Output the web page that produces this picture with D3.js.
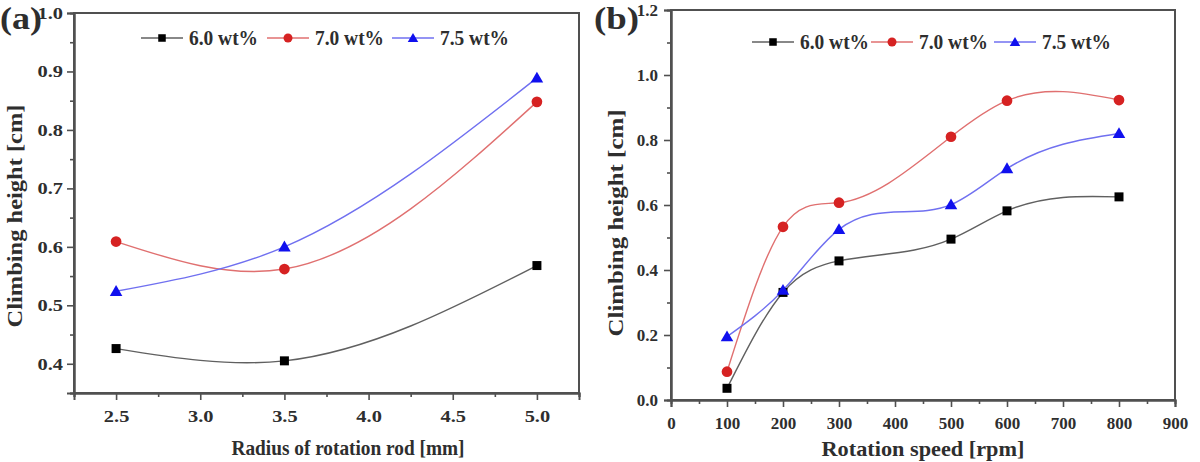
<!DOCTYPE html>
<html><head><meta charset="utf-8">
<script src="https://cdn.jsdelivr.net/npm/d3@7"></script>
<style>
html,body{margin:0;padding:0;background:#fff;}
svg{display:block;}
text{font-family:"Liberation Serif","Times New Roman",serif;font-weight:bold;fill:#2e2e2e;}
</style></head>
<body>
<svg id="chart" width="1200" height="462"></svg>
<script>
// ---- Data ----
const seriesNames = ["6.0 wt%", "7.0 wt%", "7.5 wt%"];
const radiusX = [2.5, 3.5, 5.0];
const radius60 = [0.426, 0.405, 0.568];
const radius70 = [0.609, 0.562, 0.848];
const radius75 = [0.524, 0.600, 0.889];
const speedX = [100, 200, 300, 500, 600, 800];
const speed60 = [0.036, 0.331, 0.428, 0.495, 0.582, 0.625];
const speed70 = [0.087, 0.533, 0.607, 0.810, 0.921, 0.923];
const speed75 = [0.195, 0.338, 0.525, 0.601, 0.712, 0.820];
const radiusTicks = [2.5, 3.0, 3.5, 4.0, 4.5, 5.0];
const radiusYTicks = [0.4, 0.5, 0.6, 0.7, 0.8, 0.9, 1.0];
const speedTicks = [0, 100, 200, 300, 400, 500, 600, 700, 800, 900];
const speedYTicks = [0.0, 0.2, 0.4, 0.6, 0.8, 1.0, 1.2];

const markerColors = ["#000000", "#d62222", "#1010ee"];
const lineColors = ["#606060", "#e07070", "#7070f0"];
const shapes = [d3.symbolSquare, d3.symbolCircle, d3.symbolTriangle];
const shapeSizes = [81, 90, 68];

const svg = d3.select("#chart");

// natural cubic spline y(x) drawn as exact cubic Bezier segments (pixel space, linear scales)
function splinePath(pts) {
  const n = pts.length;
  const p = d3.path();
  if (n < 2) return "";
  const h = [], M = new Array(n).fill(0);
  for (let i = 0; i < n - 1; i++) h.push(pts[i + 1][0] - pts[i][0]);
  if (n > 2) {
    const a = [], b = [], c = [], r = [];
    for (let i = 1; i < n - 1; i++) {
      a.push(h[i - 1]); b.push(2 * (h[i - 1] + h[i])); c.push(h[i]);
      r.push(6 * ((pts[i + 1][1] - pts[i][1]) / h[i] - (pts[i][1] - pts[i - 1][1]) / h[i - 1]));
    }
    const m = b.length;
    for (let i = 1; i < m; i++) {
      const w = a[i] / b[i - 1];
      b[i] -= w * c[i - 1]; r[i] -= w * r[i - 1];
    }
    const sol = new Array(m);
    sol[m - 1] = r[m - 1] / b[m - 1];
    for (let i = m - 2; i >= 0; i--) sol[i] = (r[i] - c[i] * sol[i + 1]) / b[i];
    for (let i = 0; i < m; i++) M[i + 1] = sol[i];
  }
  p.moveTo(pts[0][0], pts[0][1]);
  for (let i = 0; i < n - 1; i++) {
    const s = (pts[i + 1][1] - pts[i][1]) / h[i];
    const d0 = s - h[i] * (2 * M[i] + M[i + 1]) / 6;
    const d1 = s + h[i] * (M[i] + 2 * M[i + 1]) / 6;
    p.bezierCurveTo(pts[i][0] + h[i] / 3, pts[i][1] + d0 * h[i] / 3,
                    pts[i + 1][0] - h[i] / 3, pts[i + 1][1] - d1 * h[i] / 3,
                    pts[i + 1][0], pts[i + 1][1]);
  }
  return p.toString();
}

function fitText(sel, len) {
  sel.attr("textLength", len).attr("lengthAdjust", "spacingAndGlyphs");
}

function panel(cfg) {
  const g = svg.append("g");
  const x = d3.scaleLinear().domain(cfg.xDomain).range([cfg.left, cfg.right]);
  const y = d3.scaleLinear().domain(cfg.yDomain).range([cfg.bottom, cfg.top]);

  g.append("rect").attr("x", cfg.left).attr("y", cfg.top)
    .attr("width", cfg.right - cfg.left).attr("height", cfg.bottom - cfg.top)
    .attr("fill", "none").attr("stroke", "#505050").attr("stroke-width", 2);

  const xMinor = g.append("g").attr("transform", `translate(0,${cfg.bottom})`)
    .call(d3.axisBottom(x).tickValues(cfg.xMinor).tickSize(4).tickFormat(""));
  const yMinor = g.append("g").attr("transform", `translate(${cfg.left},0)`)
    .call(d3.axisLeft(y).tickValues(cfg.yMinor).tickSize(4).tickFormat(""));
  const xAx = g.append("g").attr("transform", `translate(0,${cfg.bottom})`)
    .call(d3.axisBottom(x).tickValues(cfg.xTicks).tickSize(7).tickPadding(10).tickFormat(cfg.xFmt));
  const yAx = g.append("g").attr("transform", `translate(${cfg.left},0)`)
    .call(d3.axisLeft(y).tickValues(cfg.yTicks).tickSize(7).tickPadding(cfg.yPad).tickFormat(cfg.yFmt));
  [xMinor, yMinor, xAx, yAx].forEach(a => {
    a.attr("font-family", null).attr("font-size", null);
    a.select(".domain").attr("stroke", "#505050").attr("stroke-width", 2);
    a.selectAll(".tick line").attr("stroke", "#505050").attr("stroke-width", 1.6);
    a.selectAll("text").attr("font-size", 17).attr("fill", null);
  });
  if (cfg.tickStretch !== 1) {
    [xAx, yAx].forEach(a => a.selectAll("text").each(function () {
      const t = d3.select(this);
      fitText(t, this.getComputedTextLength() * cfg.tickStretch);
    }));
  }

  cfg.series.forEach((vals, i) => {
    const pts = cfg.xs.map((xv, k) => [x(xv), y(vals[k])]);
    g.append("path").attr("d", splinePath(pts)).attr("fill", "none")
      .attr("stroke", lineColors[i]).attr("stroke-width", 1.4);
  });
  cfg.series.forEach((vals, i) => {
    const sym = d3.symbol().type(shapes[i]).size(shapeSizes[i]);
    g.selectAll(null).data(cfg.xs.map((xv, k) => [xv, vals[k]])).enter()
      .append("path").attr("d", sym)
      .attr("transform", d => `translate(${x(d[0])},${y(d[1]) + (i === 2 ? 1 : 0)})`)
      .attr("fill", markerColors[i]);
  });

  cfg.legend.forEach((lx, i) => {
    const ly = cfg.legendY;
    g.append("line").attr("x1", lx).attr("x2", lx + 42).attr("y1", ly).attr("y2", ly)
      .attr("stroke", lineColors[i]).attr("stroke-width", 1.4);
    g.append("path").attr("d", d3.symbol().type(shapes[i]).size(shapeSizes[i] * 0.7))
      .attr("transform", `translate(${lx + 21},${ly + (i === 2 ? 1 : 0)})`).attr("fill", markerColors[i]);
    const t = g.append("text").attr("x", lx + 48).attr("y", ly + 7).attr("font-size", 20)
      .text(seriesNames[i]);
    fitText(t, 69);
  });

  const xt = g.append("text").attr("x", cfg.xTitleX).attr("y", cfg.xTitleY).attr("text-anchor", "middle")
    .attr("font-size", 21).text(cfg.xTitle);
  fitText(xt, cfg.xTitleLen);
  const yt = g.append("text").attr("transform", `translate(${cfg.yTitleX},${cfg.yTitleY}) rotate(-90)`)
    .attr("text-anchor", "middle").attr("font-size", 21).text("Climbing height [cm]");
  fitText(yt, cfg.yTitleLen);
  const tg = g.append("text").attr("x", cfg.tagX).attr("y", 29).attr("font-size", 31).text(cfg.tag);
  fitText(tg, cfg.tagLen);
}

panel({
  left: 74, right: 579, top: 13, bottom: 393,
  xDomain: [2.25, 5.25], yDomain: [0.35, 1.0],
  xTicks: radiusTicks, yTicks: radiusYTicks,
  xMinor: [2.25, 2.75, 3.25, 3.75, 4.25, 4.75, 5.25],
  yMinor: [0.35, 0.45, 0.55, 0.65, 0.75, 0.85, 0.95],
  xFmt: d3.format(".1f"), yFmt: d3.format(".1f"), yPad: 4, tickStretch: 1.2,
  xs: radiusX, series: [radius60, radius70, radius75],
  legend: [141, 267, 392], legendY: 38,
  xTitle: "Radius of rotation rod [mm]", xTitleX: 348, xTitleY: 455, xTitleLen: 233,
  yTitleX: 22, yTitleY: 216, yTitleLen: 223, tag: "(a)", tagX: 0, tagLen: 42
});
panel({
  left: 671, right: 1175, top: 10, bottom: 400,
  xDomain: [0, 900], yDomain: [0, 1.2],
  xTicks: speedTicks, yTicks: speedYTicks,
  xMinor: d3.range(50, 900, 100),
  yMinor: d3.range(0.1, 1.2, 0.2),
  xFmt: d3.format("d"), yFmt: d3.format(".1f"), yPad: 6, tickStretch: 1,
  xs: speedX, series: [speed60, speed70, speed75],
  legend: [752, 871, 994], legendY: 42,
  xTitle: "Rotation speed [rpm]", xTitleX: 923, xTitleY: 456, xTitleLen: 203,
  yTitleX: 623, yTitleY: 223, yTitleLen: 227, tag: "(b)", tagX: 594, tagLen: 45
});
</script>
</body></html>
